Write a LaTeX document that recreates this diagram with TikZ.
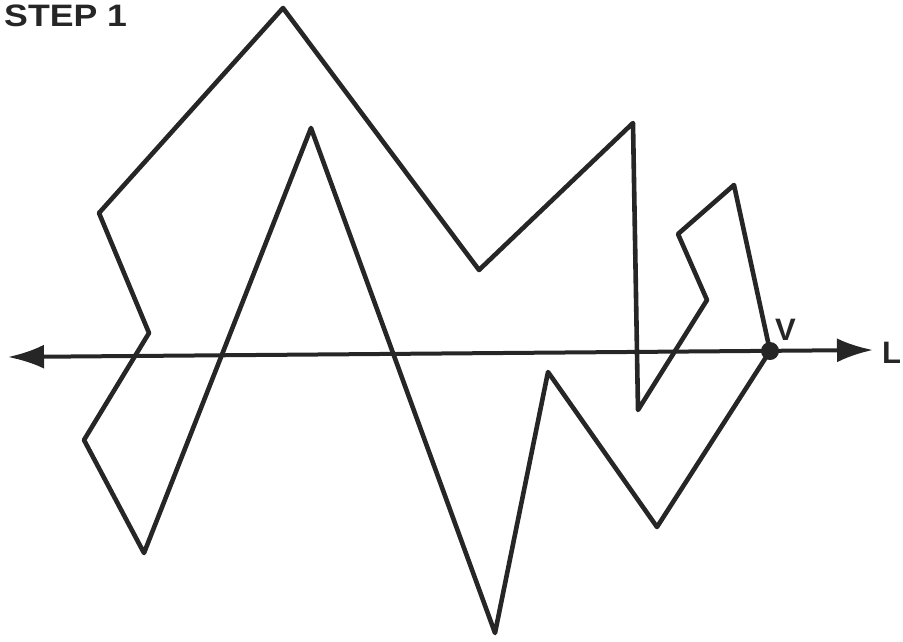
\documentclass[tikz,border=0pt]{standalone}
\usepackage{fontspec}
\setmainfont{Liberation Sans}
\usetikzlibrary{arrows.meta}
\begin{document}
\begin{tikzpicture}[x=1pt,y=-1pt,
  edge/.style={line width=4.6pt,line join=round,line cap=round,black!85},
  axis/.style={line width=4pt,black!85,{Latex[length=36pt,width=24pt]}-{Latex[length=36pt,width=24pt]}},
  lbl/.style={inner sep=0pt,black!85}]
\useasboundingbox (0,0) rectangle (903,641);
\coordinate (v) at (770,351);
\coordinate (a1) at (734,185);
\coordinate (a2) at (678,234);
\coordinate (a3) at (707,300);
\coordinate (a4) at (638,410);
\coordinate (a5) at (633,123);
\coordinate (a6) at (479,270);
\coordinate (a7) at (283,8);
\coordinate (a8) at (99,213);
\coordinate (a9) at (149,333);
\coordinate (a10) at (84,440);
\coordinate (a11) at (144,553);
\coordinate (a12) at (311,128);
\coordinate (a13) at (495,633);
\coordinate (a14) at (548,372);
\coordinate (a15) at (657,527);
\draw[edge] (v) -- (a1) -- (a2) -- (a3) -- (a4) -- (a5) -- (a6) -- (a7) -- (a8) -- (a9) -- (a10) -- (a11) -- (a12) -- (a13) -- (a14) -- (a15) -- cycle;
\coordinate (lend) at (8,357);
\coordinate (rend) at (873,350);
\draw[axis] (lend) -- (rend);
\fill[black!85] (v) circle (9);
\node[lbl,anchor=north west,xscale=1.15,font=\bfseries\fontsize{31}{31}\selectfont] (step) at (4,5) {STEP 1};
\node[lbl,anchor=south west,font=\bfseries\fontsize{31}{31}\selectfont] (vl) at (775,341) {V};
\node[lbl,anchor=south west,font=\bfseries\fontsize{31}{31}\selectfont] (ll) at (882,364) {L};
\end{tikzpicture}
\end{document}
